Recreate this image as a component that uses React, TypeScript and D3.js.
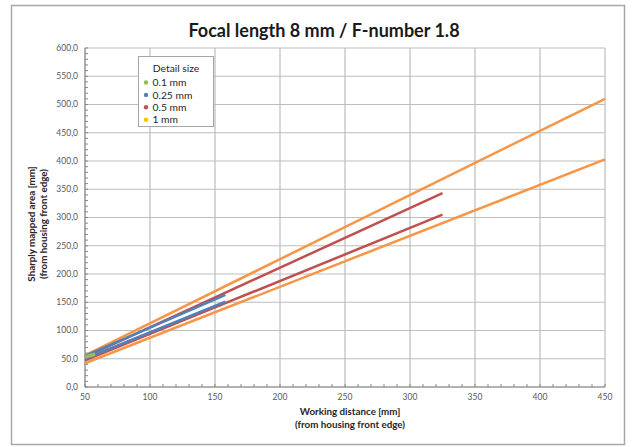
import React from "react";
import * as d3 from "d3";

// ---- data ----
const seriesNames = ["0.1 mm", "0.25 mm", "0.5 mm", "1 mm"];
const lineColors = ["#9BBB59", "#4F81BD", "#C0504D", "#F79646"];
const markerColors = ["#9BBB59", "#4F81BD", "#C0504D", "#FFC000"];
const distStart = [50, 50, 50, 50];
const distEnd = [57.7, 158, 325, 450];
const upperStart = [54, 55, 53, 56];
const upperEnd = [59, 163, 343, 510];
const lowerStart = [52, 50, 47, 42];
const lowerEnd = [57, 151, 305, 403];
const xTicks = [50, 100, 150, 200, 250, 300, 350, 400, 450];
const yTicks = [0, 50, 100, 150, 200, 250, 300, 350, 400, 450, 500, 550, 600];
const title = "Focal length 8 mm / F-number 1.8";
const xTitle = ["Working distance [mm]", "(from housing front edge)"];
const yTitle = ["Sharply mapped area [mm]", "(from housing front edge)"];
const legendTitle = "Detail size";

const W = 632;
const H = 447;
const plot = { left: 85, right: 605, top: 48, bottom: 387 };
const font = "Lato, 'Open Sans', sans-serif";

export default function App() {
  const x = d3.scaleLinear().domain([50, 450]).range([plot.left, plot.right]);
  const y = d3.scaleLinear().domain([0, 600]).range([plot.bottom, plot.top]);
  const line = d3
    .line<[number, number]>()
    .x((d) => x(d[0]))
    .y((d) => y(d[1]));
  const xMinor = d3.range(50, 451, 10);
  const yMinor = d3.range(0, 601, 10);
  const fmt = (v: number) => v.toFixed(1).replace(".", ",");

  const order = [3, 2, 1, 0];
  const legendRow = 12.4;

  return (
    <div style={{ position: "fixed", left: 0, top: 0 }}>
      <svg width={W} height={H} style={{ display: "block", background: "#fff" }}>
        <rect x={11.5} y={5.5} width={613} height={439} fill="#fff" stroke="#a8a8a8" strokeWidth={1.5} />
        <text x={324} y={37} textAnchor="middle" fontFamily={font} fontSize={18} fontWeight={700} fill="#1a1a1a">
          {title}
        </text>
        {/* gridlines */}
        {yTicks.map((t) => (
          <line key={"gy" + t} x1={plot.left} x2={plot.right} y1={y(t)} y2={y(t)} stroke="#bdbdbd" strokeWidth={1.2} />
        ))}
        {xTicks.map((t) => (
          <line key={"gx" + t} x1={x(t)} x2={x(t)} y1={plot.top} y2={plot.bottom} stroke="#bdbdbd" strokeWidth={1.2} />
        ))}
        {/* axes */}
        <line x1={plot.left} x2={plot.left} y1={plot.top} y2={plot.bottom} stroke="#868686" strokeWidth={1} />
        <line x1={plot.left} x2={plot.right} y1={plot.bottom} y2={plot.bottom} stroke="#868686" strokeWidth={1} />
        {xMinor.map((t) => (
          <line key={"mx" + t} x1={x(t)} x2={x(t)} y1={plot.bottom} y2={plot.bottom - 3} stroke="#868686" strokeWidth={1} />
        ))}
        {yMinor.map((t) => (
          <line key={"my" + t} x1={plot.left} x2={plot.left + 3} y1={y(t)} y2={y(t)} stroke="#868686" strokeWidth={1} />
        ))}
        {/* tick labels */}
        {yTicks.map((t) => (
          <text key={"ly" + t} x={78} y={y(t)} dy="0.35em" textAnchor="end" fontFamily={font} fontSize={8.5} fill="#595959">
            {fmt(t)}
          </text>
        ))}
        {xTicks.map((t) => (
          <text key={"lx" + t} x={x(t)} y={plot.bottom + 13} textAnchor="middle" fontFamily={font} fontSize={8.5} fill="#595959">
            {t}
          </text>
        ))}
        {/* axis titles */}
        <text x={350} y={415} textAnchor="middle" fontFamily={font} fontSize={9.8} fontWeight={700} fill="#262626">
          {xTitle[0]}
        </text>
        <text x={350} y={428} textAnchor="middle" fontFamily={font} fontSize={9.8} fontWeight={700} fill="#262626">
          {xTitle[1]}
        </text>
        <g transform="translate(35,224) rotate(-90)">
          <text x={0} y={0} textAnchor="middle" fontFamily={font} fontSize={9.8} fontWeight={700} fill="#262626">
            {yTitle[0]}
          </text>
          <text x={0} y={12} textAnchor="middle" fontFamily={font} fontSize={9.8} fontWeight={700} fill="#262626">
            {yTitle[1]}
          </text>
        </g>
        {/* series */}
        {order.map((i) => (
          <g key={"s" + i}>
            <path
              d={line([[distStart[i], upperStart[i]], [distEnd[i], upperEnd[i]]]) || ""}
              fill="none"
              stroke={lineColors[i]}
              strokeWidth={2.5}
            />
            <path
              d={line([[distStart[i], lowerStart[i]], [distEnd[i], lowerEnd[i]]]) || ""}
              fill="none"
              stroke={lineColors[i]}
              strokeWidth={2.5}
            />
          </g>
        ))}
        {/* legend */}
        <rect x={138.5} y={56.5} width={75} height={70} fill="#fff" stroke="#a6a6a6" strokeWidth={1} />
        <text x={176} y={72} textAnchor="middle" fontFamily={font} fontSize={10.3} fill="#262626">
          {legendTitle}
        </text>
        {seriesNames.map((n, i) => (
          <g key={"lg" + i}>
            <circle cx={146} cy={82.5 + i * legendRow} r={2.2} fill={markerColors[i]} />
            <text x={152.5} y={82.5 + i * legendRow} dy="0.36em" fontFamily={font} fontSize={10.3} fill="#262626">
              {n}
            </text>
          </g>
        ))}
      </svg>
    </div>
  );
}
